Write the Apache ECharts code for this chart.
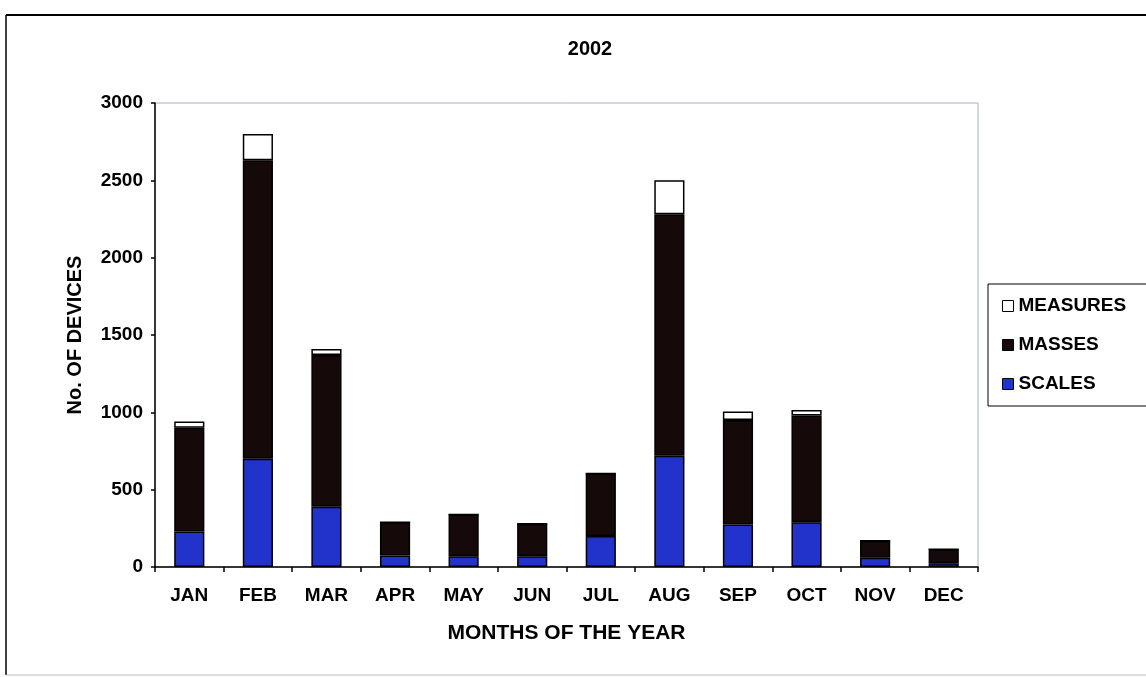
<!DOCTYPE html>
<html>
<head>
<meta charset="utf-8">
<title>2002</title>
<script src="https://cdn.jsdelivr.net/npm/echarts@6/dist/echarts.min.js"></script>
<style>
  html, body { margin: 0; padding: 0; background: #ffffff; }
  #chart { width: 1146px; height: 677px; }
</style>
</head>
<body>
<div id="chart"></div>
<script>
// Monthly device counts for 2002, stacked by device type
const months = ['JAN', 'FEB', 'MAR', 'APR', 'MAY', 'JUN', 'JUL', 'AUG', 'SEP', 'OCT', 'NOV', 'DEC'];
const scales = [230, 700, 390, 75, 70, 70, 200, 720, 275, 290, 60, 25];
const masses = [670, 1930, 980, 215, 270, 210, 405, 1560, 675, 690, 110, 90];
const measures = [40, 170, 40, 0, 0, 0, 0, 220, 55, 35, 0, 0];
const yTicks = [0, 500, 1000, 1500, 2000, 2500, 3000];

const FONT = '"Liberation Sans", Arial, sans-serif';
const chart = echarts.init(document.getElementById('chart'), null, { renderer: 'canvas' });

const barStyle = (color) => ({
  color: color,
  borderColor: '#000000',
  borderWidth: 1.5
});

chart.setOption({
  backgroundColor: '#ffffff',
  animation: false,
  title: {
    text: '2002',
    left: 585,
    top: 34,
    textAlign: 'center',
    textStyle: { fontFamily: FONT, fontWeight: 'bold', fontSize: 20, color: '#000' }
  },
  legend: {
    data: ['MEASURES', 'MASSES', 'SCALES'],
    orient: 'vertical',
    left: 988,
    top: 284,
    padding: [12, 60, 12, 14],
    itemGap: 19,
    itemWidth: 11,
    itemHeight: 11,
    itemTextGap: 3,
    icon: 'rect',
    backgroundColor: '#ffffff',
    borderColor: '#000000',
    borderWidth: 1,
    borderRadius: 0,
    itemStyle: { borderColor: '#000000', borderWidth: 1 },
    textStyle: { fontFamily: FONT, fontWeight: 'bold', fontSize: 19, color: '#000', lineHeight: 20 }
  },
  grid: {
    left: 155,
    right: 168,
    top: 103,
    bottom: 110,
    show: true,
    borderColor: '#a9b0c4',
    borderWidth: 1,
    backgroundColor: 'transparent'
  },
  xAxis: {
    type: 'category',
    data: months,
    name: 'MONTHS OF THE YEAR',
    nameLocation: 'middle',
    nameGap: 56,
    nameTextStyle: { fontFamily: FONT, fontWeight: 'bold', fontSize: 21, color: '#000' },
    axisLine: { lineStyle: { color: '#000', width: 1.5 } },
    axisTick: { show: true, alignWithLabel: false, length: 5, lineStyle: { color: '#000', width: 1.5 } },
    axisLabel: {
      margin: 19,
      fontFamily: FONT, fontWeight: 'bold', fontSize: 19, color: '#000'
    },
    splitLine: { show: false }
  },
  yAxis: {
    type: 'value',
    min: yTicks[0],
    max: yTicks[yTicks.length - 1],
    interval: yTicks[1] - yTicks[0],
    name: 'No. OF DEVICES',
    nameLocation: 'middle',
    nameRotate: 90,
    nameGap: 70,
    nameTextStyle: { fontFamily: FONT, fontWeight: 'bold', fontSize: 20, color: '#000' },
    axisLine: { show: true, lineStyle: { color: '#000', width: 1.5 } },
    axisTick: { show: true, length: 4, lineStyle: { color: '#000', width: 1.5 } },
    axisLabel: {
      margin: 12,
      formatter: (v) => String(v),
      fontFamily: FONT, fontWeight: 'bold', fontSize: 19, color: '#000'
    },
    splitLine: { show: false }
  },
  series: [
    {
      name: 'SCALES',
      type: 'bar',
      stack: 'devices',
      barWidth: '44%',
      data: scales,
      itemStyle: barStyle('#2233cc')
    },
    {
      name: 'MASSES',
      type: 'bar',
      stack: 'devices',
      barWidth: '44%',
      data: masses,
      itemStyle: barStyle('#150909')
    },
    {
      name: 'MEASURES',
      type: 'bar',
      stack: 'devices',
      barWidth: '44%',
      data: measures,
      itemStyle: barStyle('#ffffff')
    }
  ],
  graphic: [
    // chart frame
    { type: 'line', shape: { x1: 6, y1: 15, x2: 1146, y2: 15 }, style: { stroke: '#000', lineWidth: 2 }, z: 100 },
    { type: 'line', shape: { x1: 6, y1: 15, x2: 6, y2: 675 }, style: { stroke: '#000', lineWidth: 1.5 }, z: 100 },
    { type: 'line', shape: { x1: 6, y1: 675, x2: 1146, y2: 675 }, style: { stroke: '#bbbbbb', lineWidth: 1 }, z: 100 }
  ]
});
</script>
</body>
</html>
